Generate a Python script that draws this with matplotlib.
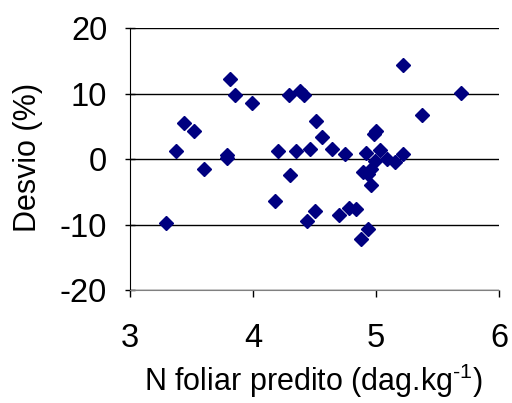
import matplotlib
matplotlib.use('Agg')
import matplotlib.pyplot as plt

plt.rcParams['font.family'] = ['Liberation Sans', 'DejaVu Sans']
plt.rcParams['axes.unicode_minus'] = False
plt.rcParams['mathtext.fontset'] = 'custom'
plt.rcParams['mathtext.rm'] = 'Liberation Sans'
plt.rcParams['mathtext.it'] = 'Liberation Sans'

# N foliar predito (dag/kg) x desvio (%)
n_predito = [3.29, 3.37, 3.44, 3.52, 3.60, 3.79, 3.79, 3.81, 3.85, 3.99,
             4.18, 4.20, 4.29, 4.30, 4.35, 4.38, 4.41, 4.44, 4.46, 4.50,
             4.51, 4.56, 4.64, 4.70, 4.75, 4.78, 4.84, 4.88, 4.89, 4.92,
             4.93, 4.93, 4.96, 4.96, 4.98, 5.00, 4.99, 5.03, 5.09, 5.15,
             5.22, 5.22, 5.37, 5.69]
desvio = [-9.8, 1.2, 5.5, 4.3, -1.5, 0.6, 0.2, 12.2, 9.8, 8.5,
          -6.4, 1.2, 9.8, -2.4, 1.2, 10.4, 9.8, -9.4, 1.5, -7.9,
          5.8, 3.4, 1.5, -8.5, 0.7, -7.5, -7.6, -12.2, -2.0, 1.0,
          -10.6, -2.2, -1.5, -4.0, 3.8, 4.3, -0.3, 1.4, 0.0, -0.4,
          0.7, 14.3, 6.7, 10.1]

fig = plt.figure(figsize=(5.12, 4.03), dpi=100)
ax = fig.add_axes([0.254, 0.28, 0.721, 0.6505])

ax.plot(n_predito, desvio, 'D', color='#000080', ms=7.5, mec='#000080', zorder=3)

ax.set_xlim(3, 6)
ax.set_ylim(-20, 20)
ax.set_xticks([3, 4, 5, 6])
ax.set_yticks([-20, -10, 0, 10, 20])
ax.grid(axis='y', color='black', lw=1)
ax.set_axisbelow(True)

for s in ['top', 'right']:
    ax.spines[s].set_visible(False)
ax.spines['bottom'].set_color('#808080')
ax.spines['left'].set_color('black')

ax.tick_params(axis='x', direction='out', length=5, width=1, color='black',
               labelsize=23.5, pad=19)
ax.tick_params(axis='y', direction='inout', length=7, width=1, color='black',
               labelsize=23.5, pad=13)

fig.text(314 / 512, 1 - 391 / 403, r'N foliar predito (dag.kg$^{\text{-1}}$)',
         fontsize=22, ha='center', va='baseline')
fig.text(28 / 512, 1 - 157 / 403, 'Desvio (%)', fontsize=22,
         rotation=90, ha='center', va='center')

fig.savefig('out.png', dpi=100)
